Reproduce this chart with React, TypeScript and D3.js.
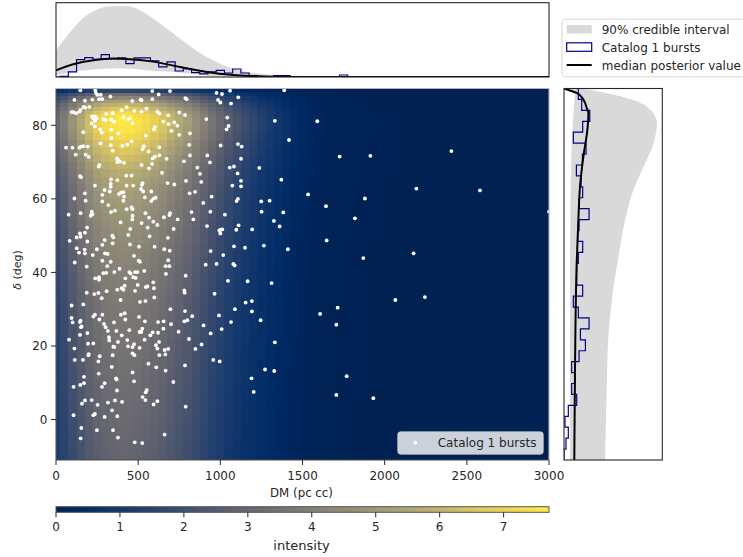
import React from "react";
import * as d3 from "d3";

// ---- data ----
const dmTicks = [0, 500, 1000, 1500, 2000, 2500, 3000];
const decTicks = [0, 20, 40, 60, 80];
const intensityTicks = [0, 1, 2, 3, 4, 5, 6, 7];
const intensityMax = 7.71;

// heat-map column weight, one per DM grid value 0, 50, 100 ... 3000
const heatDmStep = 50;
const heatDmWeight = [
  0.4, 0.5, 0.62, 0.72, 0.82, 0.9, 0.95, 0.98, 1.0, 0.99, 0.97, 0.94, 0.9, 0.85, 0.79, 0.73, 0.67, 0.6, 0.53, 0.46,
  0.4, 0.34, 0.29, 0.25, 0.215, 0.18, 0.15, 0.125, 0.1, 0.075, 0.055, 0.04, 0.03, 0.022, 0.016, 0.012, 0.01, 0.008,
  0.007, 0.006, 0.005, 0.005, 0.004, 0.004, 0.003, 0.003, 0.003, 0.003, 0.002, 0.002, 0.002, 0.002, 0.002, 0.002,
  0.001, 0.001, 0.001, 0.001, 0.001, 0.001, 0.001,
];
// heat-map row weight and the declination of each row
const heatDec = [
  89.4, 88.4, 87.5, 86.5, 85.5, 84.5, 83.5, 82.5, 81.5, 80.5, 79, 77, 75, 73, 71, 69, 67, 65, 63, 61, 59, 57, 55, 53,
  51, 49, 47, 45, 43, 41, 39, 37, 35, 33, 31, 29, 27, 25, 23, 21, 19, 17, 15, 13, 11, 9, 7, 5, 3, 1, -1, -3, -5, -7,
  -9, -10.5,
];
const heatDecWeight = [
  0.2, 0.42, 0.56, 0.68, 0.78, 0.87, 0.94, 0.98, 1.0, 1.0, 0.985, 0.95, 0.9, 0.86, 0.82, 0.78, 0.745, 0.72, 0.695,
  0.675, 0.66, 0.645, 0.63, 0.615, 0.6, 0.59, 0.575, 0.56, 0.55, 0.54, 0.53, 0.52, 0.51, 0.5, 0.49, 0.485, 0.48,
  0.475, 0.47, 0.46, 0.455, 0.45, 0.445, 0.44, 0.435, 0.43, 0.425, 0.42, 0.415, 0.41, 0.405, 0.4, 0.395, 0.39, 0.385,
  0.38,
];

// top marginal
const topDm = [0, 105, 187, 268, 349, 430, 511, 592, 673, 754, 835, 917, 998, 1079, 1160, 1241, 1363, 1484, 1700, 3000];
const topUpper = [0.36, 0.653, 0.833, 0.923, 0.955, 0.955, 0.9, 0.788, 0.653, 0.518, 0.383, 0.27, 0.18, 0.113, 0.068, 0.045, 0.023, 0.009, 0.001, 0];
const topLowerDm = [0, 105, 227, 349, 471, 592, 714, 815, 917, 1040, 1300, 3000];
const topLower = [0.023, 0.068, 0.104, 0.117, 0.113, 0.081, 0.068, 0.045, 0.018, 0.005, 0, 0];
const topMedianDm = [0, 105, 227, 349, 430, 592, 754, 917, 1080, 1221, 1424, 3000];
const topMedian = [0.09, 0.171, 0.225, 0.248, 0.243, 0.207, 0.135, 0.068, 0.027, 0.009, 0.001, 0];
// one per DM bin centred on 0, 50, 100 ...
const topHist = [
  0, 0.009, 0.068, 0.234, 0.261, 0.239, 0.302, 0.248, 0.257, 0.18, 0.257, 0.257, 0.216, 0.135, 0.203, 0.081, 0.113,
  0.059, 0.041, 0.068, 0.09, 0.054, 0.108, 0.054, 0.018, 0.005, 0.005, 0.018, 0.018, 0, 0, 0, 0, 0, 0, 0.027, 0, 0,
  0.007, 0, 0.007, 0, 0.007, 0, 0.007, 0.007, 0.007, 0, 0, 0.007, 0, 0, 0.007, 0, 0, 0, 0, 0, 0, 0, 0,
];

// right marginal
const rightDec = [90, 89.9, 88.8, 87, 84.7, 80.6, 75.2, 68.8, 62.5, 54.3, 44.3, 32.5, 22.6, 9, -11];
const rightUpper = [0, 0.146, 0.418, 0.69, 0.86, 0.946, 0.912, 0.81, 0.707, 0.622, 0.554, 0.486, 0.452, 0.435, 0.418];
const rightLowerDec = [90, 88.8, 83.3, 74.3, 65.2, 42.5, -11];
const rightLower = [0, 0.112, 0.095, 0.078, 0.068, 0.061, 0.061];
const rightMedianDec = [90, 89.9, 88.8, 87, 84.7, 83.3, 78.8, 71.5, 63.4, 54.3, 42.5, 13.5, -11];
const rightMedian = [0, 0.01, 0.129, 0.197, 0.231, 0.248, 0.238, 0.197, 0.163, 0.146, 0.129, 0.112, 0.105];
// 34 declination bins from -11 to 90, bottom to top
const rightHist = [
  0, 0.02, 0.044, 0.01, 0.044, 0.129, 0.078, 0.112, 0.078, 0.153, 0.218, 0.167, 0.255, 0.146, 0.095, 0.19, 0.129,
  0.129, 0.146, 0.19, 0.139, 0.153, 0.255, 0.153, 0.19, 0.173, 0.126, 0.187, 0.224, 0.095, 0.19, 0.262, 0.18, 0.146,
];

const bursts: [number, number][] = [
[148,89.5],[239,89.5],[243,88.8],[251,88.3],[272,88.3],[586,89.3],[694,89.3],[977,88.8],[1010,88.5],[1059,89.4],[1389,89.5],[625,88.4],[331,87.8],[112,86.9],[176,86.7],[221,87],[262,87.1],[282,87.1],[464,86.6],[515,87],[521,86.8],[586,87.1],[787,87.4],[795,87.1],[986,86.9],[1000,86.2],[1065,85.9],[1109,87.6],
[203,85],[168,85],[178,84.8],[150,84.2],[142,83.7],[95,83.6],[105,83.6],[122,83.3],[430,84.9],[400,84.1],[477,83.9],[521,83.7],[550,84.5],[617,83.7],[629,83.2],[306,83.1],[345,83.3],[219,82.4],[237,82.4],[247,81.9],[227,81.9],[237,81.2],[217,80.5],[288,81.7],[302,81.4],[335,81.6],[353,81],[410,82.2],[440,81.7],[450,81.9],[466,80.6],[683,82.7],[750,83.5],[785,82.8],[915,81.7],[1042,82.1],[653,81],[720,80.8],[685,80.3],[738,79.9],[1050,79.8],[1038,78.9],[237,79.7],[268,78.9],[278,78],[166,78.1],[337,78.8],[379,77.8],[602,79.5],[596,78.9],[702,78.5],[750,77.4],[815,77.8],[1332,81.2],
[337,76.5],[546,77.2],[1418,76],[460,75.6],[434,74.8],[404,74.4],[333,74.6],[270,75.1],[811,74.7],[629,74],[535,74.3],[527,73.5],[564,72.9],[1002,74.5],[1107,74.9],[1130,74.2],[61,73.9],[101,73.9],[142,73.9],[152,74.2],[166,74.3],[193,74.2],[120,72],[180,72],[199,71.4],[345,73.1],[815,71.8],[588,71],[602,71.5],[629,71.8],[673,70.9],[921,71.8],[1126,70.9],[371,71],[377,70.6],[389,70.1],[373,70],[414,69.8],[521,69.2],[584,69.5],[566,68.3],[779,70.2],[937,69.9],[1057,68.5],[1083,68.8],[264,69.2],[260,68.8],[860,68.5],[1237,68.4],[645,67.1],[428,66.3],[460,66.3],[146,66.2],[152,65.9],[876,66.8],[1105,66.9],[335,65.3],[373,65.1],[791,64.9],[1371,65.2],[679,64.3],[720,63.9],[884,64.6],[1126,64.9],[1073,63.6],[1126,63.4],[237,63.6],[333,64.1],[333,63.3],[430,63.6],[470,63.6],[527,64.3],[523,63.8],[296,62.4],[327,62],[517,62.7],[531,62],[580,62],[176,61.5],[282,61.1],[383,61.3],[410,61.8],[395,61.7],[414,60.6],[813,61.5],[846,61.9],[947,60.6],[112,60.1],[541,60.4],[606,60.3],[592,60],[580,59.4],[180,59.5],[282,59.3],[410,59.5],[1107,60],[1099,59.4],[1249,59.3],[1300,59.5],[896,58.9],[318,58.3],[430,57.2],[460,57.7],[466,57.2],[217,56.5],[150,56.1],[335,56.4],[359,56.8],[77,55.7],[221,55.8],[211,55.4],[466,55.4],[464,54.4],[544,56.1],[566,54.9],[694,56.1],[690,55.6],[657,55],[825,56.4],[939,56.5],[1028,55.7],[1251,56.5],[1383,56.3],[740,54.4],[836,54.4],[592,53.8],[617,52.9],[521,53.4],[393,53.6],[1326,54],[919,52.6],[1111,52.8],[1361,52.5],[189,52.2],[558,52.2],[452,51.8],[716,51.8],[1002,51.6],[1012,51.7],[994,51.4],[1000,50.6],[1097,51.6],[1194,51.7],[440,50.2],[146,50.6],[126,49.5],[150,49.7],[176,50.8],[343,50],[349,49.5],[570,49.8],[681,49.4],[83,48.6],[191,48.4],[296,48.8],[282,47.5],[345,47.9],[450,47.6],[505,47],[600,47],[1083,47.1],[1150,46.7],[1265,47.3],[1411,46.3],[126,46.6],[174,46.2],[140,45.4],[176,45.2],[223,44.7],[249,46.3],[298,45.2],[314,45],[475,44.5],[659,46.3],[692,45.9],[941,45.8],[1018,44.7],[114,42.7],[282,43.2],[333,42.9],[503,43.2],[511,42.9],[683,43.3],[312,41.7],[187,41.6],[667,41.7],[690,41.7],[911,42.1],[977,42.3],[1079,42.3],[1087,41.9],[387,41],[288,39.8],[306,39.9],[355,40.1],[446,40.1],[454,39.7],[481,40.1],[495,40.1],[537,40.4],[669,39.6],
[789,39.1],[239,38.4],[262,38.7],[262,38],[422,38.4],[470,38.7],[485,38.5],[592,37.3],[497,36.6],[546,36],[556,36.2],[596,35.7],[1046,37.7],[1166,37.6],[1312,37.1],[373,35.3],[400,35.7],[418,36.4],[410,35.3],[481,35],[187,34.5],[233,34.1],[258,34.4],[308,34.9],[781,35.1],[783,34.5],[965,34.2],[278,33],[598,33.2],[393,32.5],[511,32],[544,32.2],[1154,31.8],[1192,32.2],[95,31],[166,31.3],[696,30],[1089,30],[785,29.5],[1192,29.4],[395,28.5],[418,28.9],[95,27.6],[227,28],[237,28.5],[282,28.5],[505,27.9],[829,28.1],[992,28.3],[422,27.2],[264,27.2],[150,26.9],[146,26.5],[101,26.4],[156,25.3],[152,25.1],[292,26],[353,26.4],[541,26.7],[621,26.5],[655,26.7],[700,25.9],[781,26.7],[799,27],[898,25.6],[1065,26.5],[1245,27],[302,25.1],[316,24.1],[367,24.1],[446,24.3],[525,24.7],[653,24.7],[509,23.8],[519,23.8],[588,23.7],[621,23.6],[574,22.9],[746,23.9],[1008,24.6],[941,23.4],[146,23],[191,23.5],[400,22.9],[322,22.4],[324,21.5],[539,21.7],[809,21.9],[79,21.7],[195,20.6],[227,20.7],[377,21.1],[434,21.6],[627,21.1],[1332,21],[355,19.7],[349,19.8],[438,19.9],[475,20.5],[466,19.7],[509,19.5],[608,20.2],[617,19.3],[661,18.9],[683,19.2],[886,20.4],[848,19.2],[112,19.3],[199,17.8],[197,17.5],[266,17.2],[345,17.5],[466,18],[477,17.5],[629,17.5],[665,17.7],[114,16.2],[164,16.2],[258,15.8],[957,16.2],[996,15.8],[562,15.2],[339,14.3],[610,14.2],[785,14.7],[667,13.3],[1272,13.6],[1328,13.2],[466,12.8],[260,12.5],[170,11.6],[365,11.2],[369,10.9],[1190,11.2],[475,10.4],[714,10.2],[170,9.9],[148,9.4],[107,8.9],[296,9.9],[280,8.9],[371,7.9],[552,8],[546,7.4],[1203,7.5],[176,5.2],[217,5.3],[158,4.3],[359,5.2],[402,4.8],[316,4.6],[527,6.1],[544,5.3],[617,5],[594,4.1],[253,4],[789,3.5],[341,2.5],[107,1.2],[227,1.2],[237,1.5],[296,0.7],[373,0.9],[154,-2.3],[249,-2.9],[347,-2.9],[661,-4.1],[150,-5.1],[377,-4.9],[479,-6.2],[525,-6.4],
[1590,81.1],[1726,71.5],[1913,71.7],[2406,73],[1534,61.2],[2193,62.8],[2580,62.3],[1643,58],[1880,60.1],[1819,54.7],[1647,48.7],[1870,43.9],[2176,45.2],[3000,56.5],
[1607,28.7],[1714,30.4],[1706,25.8],[2065,32.5],[2245,33.3],[1769,11.8],[1706,6.7],[1931,5.8],
];

// ---- layout ----
const W = 743, H = 557;
const main = { l: 56, r: 549, t: 88.5, b: 460 };
const top = { l: 56, r: 549, t: 2.7, b: 77 };
const right = { l: 564, r: 662.3, t: 88.5, b: 460 };
const cbar = { l: 56, r: 549, t: 506.7, b: 512.3 };
const font = "'DejaVu Sans', sans-serif";
const ink = "#262626";
const histColor = "#00008b";
const bandColor = "#d9d9d9";

const xScale = d3.scaleLinear().domain([0, 3000]).range([main.l, main.r]);
const yScale = d3.scaleLinear().domain([-11, 90]).range([main.b, main.t]);
const topY = d3.scaleLinear().domain([0, 1]).range([top.b, top.t]);
const rightX = d3.scaleLinear().domain([0, 1]).range([right.l, right.r]);
const colorScale = d3.scaleSequential(d3.interpolateCividis).domain([0, intensityMax]);
const cbarX = d3.scaleLinear().domain([0, intensityMax]).range([cbar.l, cbar.r]);

function Heat() {
  const rowEdge = (j: number) =>
    j === 0 ? 90 : j === heatDec.length ? -11 : (heatDec[j - 1] + heatDec[j]) / 2;
  const colEdge = (k: number) =>
    k === 0 ? 0 : k === heatDmWeight.length ? 3000 : (k - 0.5) * heatDmStep;
  const cells: React.ReactElement[] = [];
  heatDecWeight.forEach((g, j) => {
    heatDmWeight.forEach((f, k) => {
      const x0 = Math.round(xScale(colEdge(k))), x1 = Math.round(xScale(colEdge(k + 1)));
      const y0 = Math.round(yScale(rowEdge(j))), y1 = Math.round(yScale(rowEdge(j + 1)));
      cells.push(
        <rect key={j + "-" + k} x={x0} y={y0} width={x1 - x0} height={y1 - y0}
          fill={colorScale(f * g * intensityMax)} />
      );
    });
  });
  return <g shapeRendering="crispEdges">{cells}</g>;
}

function Frame({ b, stroke = ink, sw = 1.1 }: { b: typeof main; stroke?: string; sw?: number }) {
  return <rect x={b.l} y={b.t} width={b.r - b.l} height={b.b - b.t} fill="none" stroke={stroke} strokeWidth={sw} />;
}

export default function App() {
  // top marginal paths
  const topBand = d3.area<number>().x((d) => xScale(d)).y1((_, i) => topY(topUpper[i])).y0((d) => {
    const t = d3.scaleLinear().domain(topLowerDm).range(topLower);
    return topY(t(d));
  }).curve(d3.curveMonotoneX)(topDm)!;
  const topMed = d3.line<number>().x((d) => xScale(d)).y((_, i) => topY(topMedian[i])).curve(d3.curveMonotoneX)(topMedianDm)!;
  const topHistPts: [number, number][] = [[0, 0]];
  topHist.forEach((v, k) => {
    const a = Math.max(0, (k - 0.5) * heatDmStep), b = Math.min(3000, (k + 0.5) * heatDmStep);
    topHistPts.push([a, v], [b, v]);
  });
  const topHistPath = d3.line().x((d) => xScale(d[0])).y((d) => topY(d[1]))(topHistPts)!;

  // right marginal paths
  const rightBand = d3.area<number>().y((d) => yScale(d)).x1((_, i) => rightX(rightUpper[i])).x0((d) => {
    const t = d3.scaleLinear().domain(rightLowerDec).range(rightLower);
    return rightX(t(d));
  }).curve(d3.curveMonotoneY)(rightDec)!;
  const rightMed = d3.line<number>().y((d) => yScale(d)).x((_, i) => rightX(rightMedian[i])).curve(d3.curveMonotoneY)(rightMedianDec)!;
  const decStep = 101 / rightHist.length;
  const rightHistPts: [number, number][] = [];
  rightHist.forEach((v, k) => {
    rightHistPts.push([v, -11 + k * decStep], [v, -11 + (k + 1) * decStep]);
  });
  const rightHistPath = d3.line().x((d) => rightX(d[0])).y((d) => yScale(d[1]))(rightHistPts)!;

  const gradStops = d3.range(0, 1.0001, 1 / 40);

  return (
    <svg width={W} height={H} viewBox={`0 0 ${W} ${H}`}
      style={{ position: "absolute", left: 0, top: 0, display: "block", background: "#fff" }}
      fontFamily={font}>
      <defs>
        <clipPath id="mainClip"><rect x={main.l} y={main.t} width={main.r - main.l} height={main.b - main.t} /></clipPath>
        <clipPath id="topClip"><rect x={top.l} y={top.t} width={top.r - top.l} height={top.b - top.t} /></clipPath>
        <clipPath id="rightClip"><rect x={right.l} y={right.t} width={right.r - right.l} height={right.b - right.t} /></clipPath>
        <linearGradient id="cbarGrad" x1="0" x2="1" y1="0" y2="0">
          {gradStops.map((t) => <stop key={t} offset={t} stopColor={d3.interpolateCividis(t)} />)}
        </linearGradient>
      </defs>

      {/* main panel */}
      <g clipPath="url(#mainClip)">
        <Heat />
        {bursts.map(([dm, dec], i) => (
          <circle key={i} cx={xScale(dm)} cy={yScale(dec)} r={1.9} fill="#fff" />
        ))}
      </g>
      <line x1={main.l} x2={main.r} y1={main.b} y2={main.b} stroke="#4a4a4a" strokeWidth={1.1} />
      <line x1={main.l} x2={main.l} y1={main.t} y2={main.b} stroke="#555" strokeWidth={1.1} />
      <line x1={main.l} x2={main.r} y1={main.t} y2={main.t} stroke="#b5b5b5" strokeWidth={1.1} />
      <line x1={main.r} x2={main.r} y1={main.t} y2={main.b} stroke="#b5b5b5" strokeWidth={1.1} />

      {dmTicks.map((t) => (
        <g key={t} transform={`translate(${xScale(t)},${main.b})`}>
          <line y1={0} y2={5} stroke={ink} strokeWidth={1} />
          <text y={19.5} textAnchor="middle" fontSize={12} fill={ink}>{t}</text>
        </g>
      ))}
      {decTicks.map((t) => (
        <g key={t} transform={`translate(${main.l},${yScale(t)})`}>
          <line x1={0} x2={-5} stroke={ink} strokeWidth={1} />
          <text x={-8.5} y={4.3} textAnchor="end" fontSize={12} fill={ink}>{t}</text>
        </g>
      ))}
      <text x={(main.l + main.r) / 2 - 1} y={497} textAnchor="middle" fontSize={11.8} fill={ink}>DM (pc cc)</text>
      <text transform={`translate(21,270) rotate(-90)`} textAnchor="middle" fontSize={11} fill={ink}>
        <tspan fontStyle="italic">δ</tspan> (deg)
      </text>

      {/* main legend */}
      <rect x={397.7} y={431.7} width={145.6} height={22.6} rx={3} fill="#fff" fillOpacity={0.8} stroke="#ccc" strokeOpacity={0.8} strokeWidth={0.8} />
      <circle cx={415.3} cy={442.7} r={1.9} fill="#fff" />
      <text x={437.7} y={446.8} fontSize={12} fill={ink}>Catalog 1 bursts</text>

      {/* top marginal */}
      <g clipPath="url(#topClip)">
        <path d={topBand} fill={bandColor} />
        <path d={topHistPath} fill="none" stroke={histColor} strokeWidth={1.2} />
        <path d={topMed} fill="none" stroke="#000" strokeWidth={2} />
      </g>
      <Frame b={top as typeof main} />

      {/* right marginal */}
      <g clipPath="url(#rightClip)">
        <path d={rightBand} fill={bandColor} />
        <path d={rightHistPath} fill="none" stroke={histColor} strokeWidth={1.2} />
        <path d={rightMed} fill="none" stroke="#000" strokeWidth={2} />
      </g>
      <Frame b={right as typeof main} />

      {/* outer legend */}
      <rect x={562} y={19.2} width={190} height={57.6} rx={3} fill="#fff" stroke="#ccc" strokeWidth={0.8} />
      <rect x={566.7} y={25} width={25} height={8.5} fill={bandColor} />
      <rect x={566.7} y={42.8} width={25} height={8.5} fill="none" stroke={histColor} strokeWidth={1.2} />
      <line x1={566.7} x2={591.7} y1={65} y2={65} stroke="#000" strokeWidth={2} />
      <text x={601.7} y={33.8} fontSize={12} fill={ink}>90% credible interval</text>
      <text x={601.7} y={51.5} fontSize={12} fill={ink}>Catalog 1 bursts</text>
      <text x={601.7} y={69.5} fontSize={12} fill={ink}>median posterior value</text>

      {/* colorbar */}
      <rect x={cbar.l} y={cbar.t} width={cbar.r - cbar.l} height={cbar.b - cbar.t} fill="url(#cbarGrad)" stroke="#555" strokeWidth={1} />
      {intensityTicks.map((t) => (
        <g key={t} transform={`translate(${cbarX(t)},${cbar.b})`}>
          <line y1={0} y2={5} stroke={ink} strokeWidth={1} />
          <text y={19} textAnchor="middle" fontSize={12} fill={ink}>{t}</text>
        </g>
      ))}
      <text x={(cbar.l + cbar.r) / 2 - 1} y={550} textAnchor="middle" fontSize={13} fill={ink}>intensity</text>
    </svg>
  );
}
